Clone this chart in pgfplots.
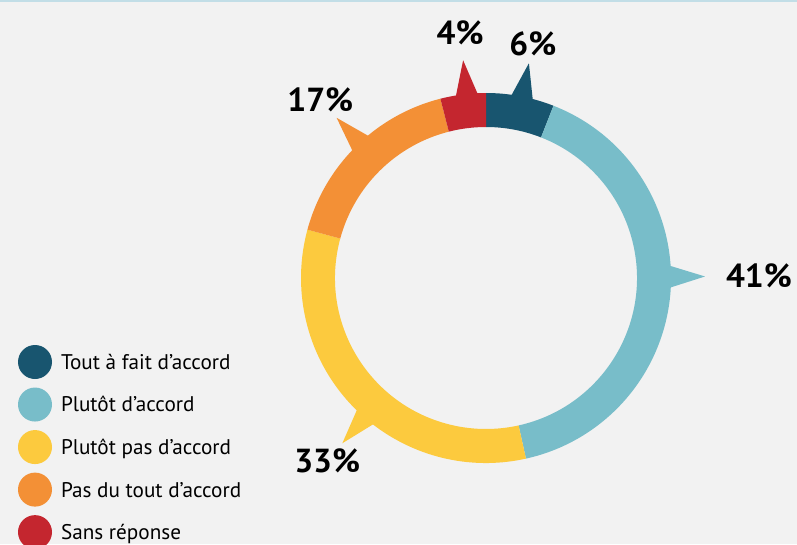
\documentclass[border=0pt]{standalone}
\usepackage{pgfplots}
\pgfplotsset{compat=1.18}
\usepackage{fontspec}
\setmainfont{PT Sans}
\definecolor{tfa}{HTML}{18556F}
\definecolor{pda}{HTML}{78BDC9}
\definecolor{ppa}{HTML}{FCCA3E}
\definecolor{pdt}{HTML}{F39036}
\definecolor{sr}{HTML}{C4262F}
\definecolor{bgc}{HTML}{F2F2F2}
\definecolor{topline}{HTML}{C2DEE7}
\tikzset{lab/.style={font=\fontsize{25}{29}\selectfont\bfseries, inner sep=0pt}}

% total of the shares (as printed)
\newcommand\total{101}
\newcommand\curang{90}
% #1 share (%), #2 colour, #3 label, #4 pointer angle, #5 label distance
\newcommand\donutwedge[5]{%
  \pgfmathsetmacro\wa{\curang}%
  \pgfmathsetmacro\wb{\curang-#1*360/\total}%
  \pgfmathsetmacro\pa{#4-3.8}%
  \pgfmathsetmacro\pb{#4+3.8}%
  \edef\tmp{%
    \noexpand\fill[#2] (axis cs:{185*cos(\wa)},{185*sin(\wa)}) arc[start angle=\wa, end angle=\wb, radius=138.75pt] -- (axis cs:{151*cos(\wb)},{151*sin(\wb)}) arc[start angle=\wb, end angle=\wa, radius=113.25pt] -- cycle;
    \noexpand\fill[#2] (axis cs:{181*cos(\pa)},{181*sin(\pa)}) -- (axis cs:{219*cos(#4)},{219*sin(#4)}) -- (axis cs:{181*cos(\pb)},{181*sin(\pb)}) -- cycle;
    \noexpand\node[lab] at (axis cs:{#5*cos(#4)},{#5*sin(#4)}) {#3};
  }\tmp
  \xdef\curang{\wb}%
}

\begin{document}
\begin{tikzpicture}
\useasboundingbox (0,0) rectangle (597.75pt,408pt);
\clip (0,0) rectangle (597.75pt,408pt);
\fill[bgc] (0,0) rectangle (597.75pt,408pt);
\fill[topline] (0,406.5pt) rectangle (597.75pt,408pt);
\begin{axis}[
  at={(0,0)}, anchor=south west,
  scale only axis, width=597.75pt, height=408pt,
  xmin=-486, xmax=311, ymin=-266, ymax=278,
  hide axis, clip=false,
  legend image code/.code={\fill[#1, draw=none] (0pt,0pt) circle (12.75pt);},
  legend cell align=left,
  legend style={at={(axis cs:-468,-67)}, anchor=north west, draw=none, fill=none,
    inner sep=0pt, outer sep=0pt, row sep=6.4pt, column sep=6.75pt,
    font=\fontsize{15.9}{18}\selectfont,
    nodes={inner sep=0pt, text depth=0pt, text height=11.1pt}},
]
\donutwedge{6}{tfa}{6\%}{78.7}{239}
\donutwedge{41}{pda}{41\%}{0.4}{273}
\donutwedge{33}{ppa}{33\%}{229}{242}
\donutwedge{17}{pdt}{17\%}{133}{243}
\donutwedge{4}{sr}{4\%}{96}{247}
\addlegendimage{fill=tfa}\addlegendentry{Tout à fait d’accord}
\addlegendimage{fill=pda}\addlegendentry{Plutôt d’accord}
\addlegendimage{fill=ppa}\addlegendentry{Plutôt pas d’accord}
\addlegendimage{fill=pdt}\addlegendentry{Pas du tout d’accord}
\addlegendimage{fill=sr}\addlegendentry{Sans réponse}
\end{axis}
\end{tikzpicture}
\end{document}
